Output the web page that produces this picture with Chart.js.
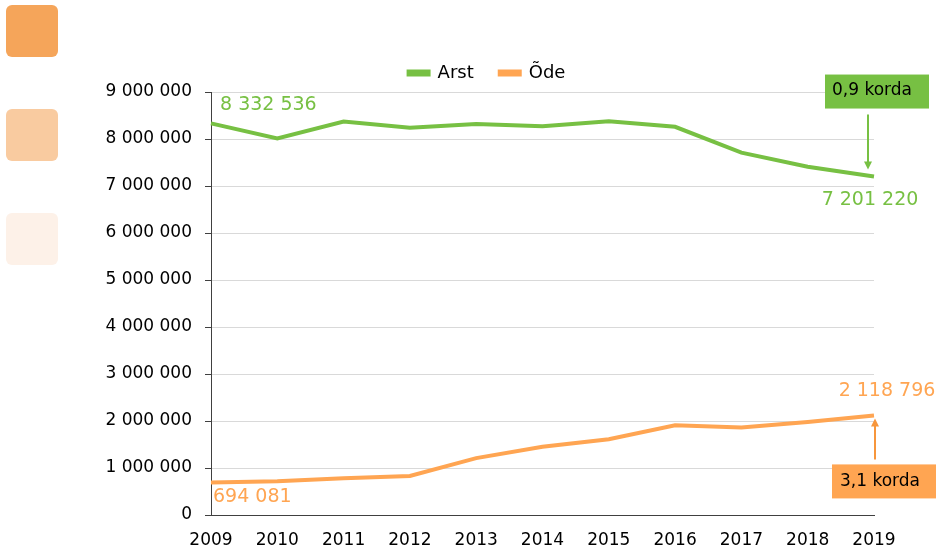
<!DOCTYPE html>
<html lang="et">
<head>
<meta charset="UTF-8">
<title>Arstid ja õed</title>
<script src="https://cdn.jsdelivr.net/npm/chart.js"></script>
<style>
  body { margin: 0; background: #fff; overflow: hidden; }
  #wrap { position: relative; width: 940px; height: 554px; }
  .sq { position: absolute; left: 6px; width: 52px; height: 52px; border-radius: 6px; }
  canvas { position: absolute; left: 0; top: 0; }
</style>
</head>
<body>
<div id="wrap">
  <div class="sq" style="top:5px;background:#F5A55A"></div>
  <div class="sq" style="top:109px;background:#F9CBA0"></div>
  <div class="sq" style="top:213px;background:#FDF1E8"></div>
  <canvas id="chart" width="940" height="554"></canvas>
</div>
<script>
// data
var years = ["2009", "2010", "2011", "2012", "2013", "2014", "2015", "2016", "2017", "2018", "2019"];
var arst = [8332536, 8010000, 8370000, 8240000, 8320000, 8270000, 8380000, 8260000, 7710000, 7410000, 7201220];
var ode = [694081, 720000, 780000, 830000, 1210000, 1450000, 1610000, 1910000, 1860000, 1980000, 2118796];
var yTicks = [0, 1000000, 2000000, 3000000, 4000000, 5000000, 6000000, 7000000, 8000000, 9000000];
var ratioArst = "0,9 korda";
var ratioOde = "3,1 korda";

var GREEN = "#77C043";
var ORANGE = "#FFA552";
var FONT = "'DejaVu Sans', sans-serif";

function fmt(v) {
  return String(Math.round(v)).replace(/\B(?=(\d{3})+(?!\d))/g, " ");
}

// end labels + ratio boxes
var labelsPlugin = {
  id: "endLabels",
  afterDatasetsDraw: function(chart) {
    var c = chart.ctx;
    var xs = chart.scales.x, ys = chart.scales.y;
    var last = years.length - 1;
    c.save();
    c.font = "19px " + FONT;
    c.textBaseline = "middle";

    // first values
    var gx0 = xs.getPixelForValue(0), gy0 = ys.getPixelForValue(arst[0]);
    c.fillStyle = GREEN;
    c.textAlign = "left";
    c.fillText(fmt(arst[0]), gx0 + 9, gy0 - 18);
    var oy0 = ys.getPixelForValue(ode[0]);
    c.fillStyle = ORANGE;
    c.fillText(fmt(ode[0]), gx0 + 2, oy0 + 15);

    // last values
    var gx = xs.getPixelForValue(last), gy = ys.getPixelForValue(arst[last]);
    c.fillStyle = GREEN;
    c.textAlign = "center";
    c.fillText(fmt(arst[last]), gx - 4, gy + 24);
    var oy = ys.getPixelForValue(ode[last]);
    c.fillStyle = ORANGE;
    c.fillText(fmt(ode[last]), gx + 13, oy - 24);

    // green box + arrow down
    c.fillStyle = GREEN;
    c.fillRect(gx - 49, gy - 102, 104, 34);
    c.fillStyle = "#000";
    c.font = "17px " + FONT;
    c.textAlign = "left";
    c.fillText(ratioArst, gx - 42, gy - 86);
    c.strokeStyle = GREEN;
    c.lineWidth = 2;
    c.beginPath();
    c.moveTo(gx - 6, gy - 62);
    c.lineTo(gx - 6, gy - 12);
    c.stroke();
    c.beginPath();
    c.moveTo(gx - 10, gy - 15);
    c.lineTo(gx - 2, gy - 15);
    c.lineTo(gx - 6, gy - 7);
    c.closePath();
    c.fillStyle = GREEN;
    c.fill();

    // orange box + arrow up
    c.fillStyle = ORANGE;
    c.fillRect(gx - 42, oy + 49, 104, 34);
    c.fillStyle = "#000";
    c.fillText(ratioOde, gx - 34, oy + 66);
    c.strokeStyle = "#F7963C";
    c.beginPath();
    c.moveTo(gx + 1, oy + 44);
    c.lineTo(gx + 1, oy + 8);
    c.stroke();
    c.beginPath();
    c.moveTo(gx - 3, oy + 11);
    c.lineTo(gx + 5, oy + 11);
    c.lineTo(gx + 1, oy + 3);
    c.closePath();
    c.fillStyle = "#F7963C";
    c.fill();
    c.restore();
  }
};

new Chart(document.getElementById("chart"), {
  type: "line",
  data: {
    labels: years,
    datasets: [
      { label: "Arst", data: arst, borderColor: GREEN, backgroundColor: GREEN, borderWidth: 4, pointRadius: 0, tension: 0 },
      { label: "Õde", data: ode, borderColor: ORANGE, backgroundColor: ORANGE, borderWidth: 4, pointRadius: 0, tension: 0 }
    ]
  },
  options: {
    responsive: false,
    animation: false,
    layout: { padding: { top: 38, left: 100, right: 66, bottom: 0 } },
    plugins: {
      legend: {
        position: "top",
        labels: { font: { family: FONT, size: 18 }, color: "#000", boxWidth: 20, boxHeight: 3, padding: 26 }
      },
      tooltip: { enabled: false }
    },
    scales: {
      x: {
        offset: false,
        afterFit: function(axis) { axis.height = 39; },
        grid: { display: false, drawTicks: false },
        border: { color: "#404040", width: 1 },
        ticks: { font: { family: FONT, size: 17 }, color: "#000", padding: 15, maxRotation: 0 }
      },
      y: {
        min: 0,
        max: 9000000,
        afterBuildTicks: function(axis) { axis.ticks = yTicks.map(function(v) { return { value: v }; }); },
        afterFit: function(axis) { axis.width = 111; },
        grid: { color: "#D9D9D9", lineWidth: 1, tickLength: 6, tickColor: "#404040" },
        border: { color: "#404040", width: 1 },
        ticks: { font: { family: FONT, size: 17 }, color: "#000", padding: 13, callback: function(v) { return fmt(v); } }
      }
    }
  },
  plugins: [labelsPlugin]
});
</script>
</body>
</html>
